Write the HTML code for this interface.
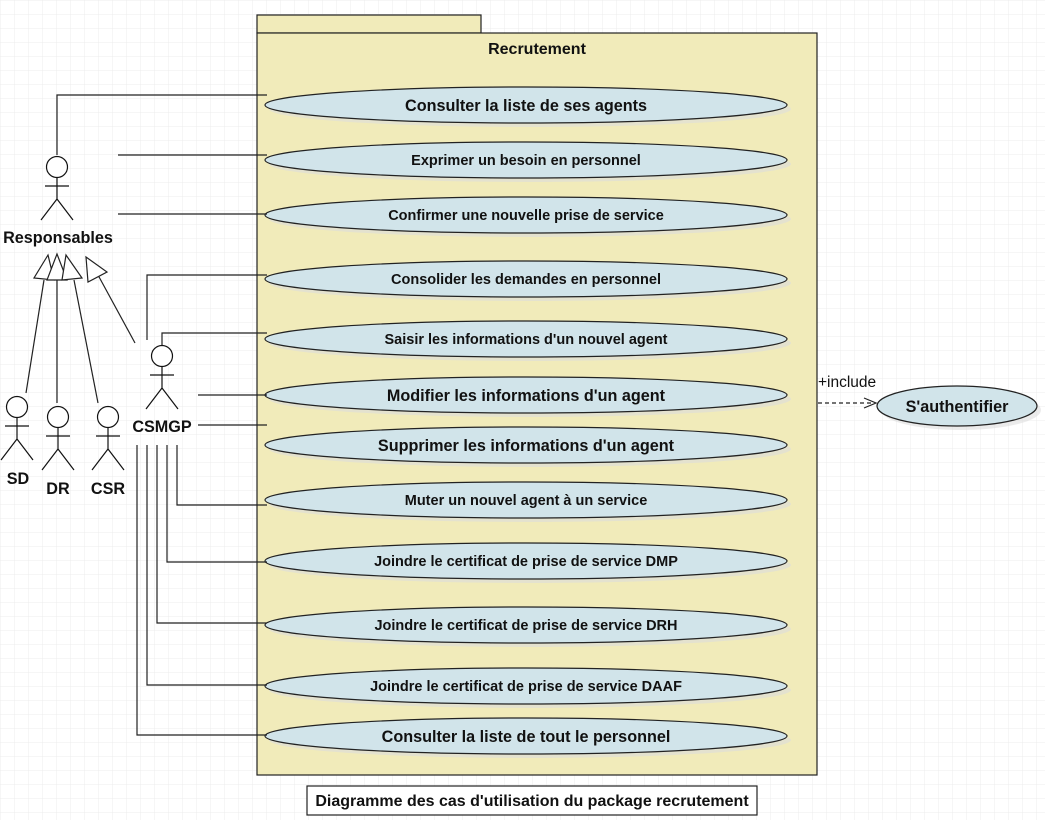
<!DOCTYPE html>
<html><head><meta charset="utf-8"><style>
html,body{margin:0;padding:0;background:#fff}
svg{display:block}
text{font-family:"Liberation Sans",Arial,sans-serif;font-weight:bold;fill:#111}
</style></head><body>
<svg width="1045" height="820" xmlns="http://www.w3.org/2000/svg">
<defs>
<pattern id="g" width="14" height="14" patternUnits="userSpaceOnUse">
<path d="M14 0H0V14" fill="none" stroke="#ececec" stroke-width="1"/>
</pattern>
</defs>
<rect width="1045" height="820" fill="url(#g)"/>
<rect x="257" y="15" width="224" height="18" fill="#f1ebba" stroke="#222" stroke-width="1.2"/>
<rect x="257" y="33" width="560" height="742" fill="#f1ebba" stroke="#222" stroke-width="1.2"/>
<text x="537" y="54" text-anchor="middle" font-size="16">Recrutement</text>

<g stroke="#222" stroke-width="1.2" fill="#d1e4ea">
<g fill="#ddd" stroke="none" opacity="0.6">
<ellipse cx="530" cy="109" rx="261" ry="18"/><ellipse cx="530" cy="164" rx="261" ry="18"/>
<ellipse cx="530" cy="219" rx="261" ry="18"/><ellipse cx="530" cy="283" rx="261" ry="18"/>
<ellipse cx="530" cy="343" rx="261" ry="18"/><ellipse cx="530" cy="399" rx="261" ry="18"/>
<ellipse cx="530" cy="449" rx="261" ry="18"/><ellipse cx="530" cy="504" rx="261" ry="18"/>
<ellipse cx="530" cy="565" rx="261" ry="18"/><ellipse cx="530" cy="629" rx="261" ry="18"/>
<ellipse cx="530" cy="690" rx="261" ry="18"/><ellipse cx="530" cy="740" rx="261" ry="18"/>
<ellipse cx="961" cy="410" rx="80" ry="20"/>
</g>
<ellipse cx="526" cy="105" rx="261" ry="18"/>
<ellipse cx="526" cy="160" rx="261" ry="18"/>
<ellipse cx="526" cy="215" rx="261" ry="18"/>
<ellipse cx="526" cy="279" rx="261" ry="18"/>
<ellipse cx="526" cy="339" rx="261" ry="18"/>
<ellipse cx="526" cy="395" rx="261" ry="18"/>
<ellipse cx="526" cy="445" rx="261" ry="18"/>
<ellipse cx="526" cy="500" rx="261" ry="18"/>
<ellipse cx="526" cy="561" rx="261" ry="18"/>
<ellipse cx="526" cy="625" rx="261" ry="18"/>
<ellipse cx="526" cy="686" rx="261" ry="18"/>
<ellipse cx="526" cy="736" rx="261" ry="18"/>
<ellipse cx="957" cy="406" rx="80" ry="20"/>
</g>
<g text-anchor="middle">
<text x="526" y="111" font-size="16.2">Consulter la liste de ses agents</text>
<text x="526" y="165" font-size="14.5">Exprimer un besoin en personnel</text>
<text x="526" y="220" font-size="14.5">Confirmer une nouvelle prise de service</text>
<text x="526" y="284" font-size="14.5">Consolider les demandes en personnel</text>
<text x="526" y="344" font-size="14.5">Saisir les informations d'un nouvel agent</text>
<text x="526" y="401" font-size="16.2">Modifier les informations d'un agent</text>
<text x="526" y="451" font-size="16.2">Supprimer les informations d'un agent</text>
<text x="526" y="505" font-size="14.5">Muter un nouvel agent à un service</text>
<text x="526" y="566" font-size="14.5">Joindre le certificat de prise de service DMP</text>
<text x="526" y="630" font-size="14.5">Joindre le certificat de prise de service DRH</text>
<text x="526" y="691" font-size="14.5">Joindre le certificat de prise de service DAAF</text>
<text x="526" y="742" font-size="16.2">Consulter la liste de tout le personnel</text>
<text x="957" y="412" font-size="16.2">S'authentifier</text>
</g>

<g stroke="#222" stroke-width="1.2" fill="none">
<path d="M57 155V95H267"/>
<path d="M118 155H267"/>
<path d="M118 214H267"/>
<path d="M147 340V275H267"/>
<path d="M162 345V333H267"/>
<path d="M198 395H267"/>
<path d="M198 425H267"/>
<path d="M177 445V505H267"/>
<path d="M167 445V562H267"/>
<path d="M157 445V623H267"/>
<path d="M147 445V685H267"/>
<path d="M137 445V735H267"/>
<path d="M818 403H874" stroke-dasharray="4,3"/>
<path d="M864 398L876 403L864 408"/>
<path d="M26 393L44 280"/>
<path d="M57 403V280"/>
<path d="M98 403L74 280"/>
<path d="M135 343L98 275"/>
</g>
<g stroke="#222" stroke-width="1.2" fill="#fff">
<path d="M48 255L34 278L54 280Z"/>
<path d="M57 254L47 280L67 280Z"/>
<path d="M66 255L62 280L82 278Z"/>
<path d="M86 257L88 282L107 272Z"/>
</g>
<text x="818" y="387" font-size="15.5" style="font-weight:normal">+include</text>

<g stroke="#111" stroke-width="1.2" fill="#fff">
<g transform="translate(57,167)"><circle r="10.5"/><path d="M0 10.5V32M-12 19H12M0 32L-16 53M0 32L16 53" fill="none"/></g>
<g transform="translate(17,407)"><circle r="10.5"/><path d="M0 10.5V32M-12 19H12M0 32L-16 53M0 32L16 53" fill="none"/></g>
<g transform="translate(58,417)"><circle r="10.5"/><path d="M0 10.5V32M-12 19H12M0 32L-16 53M0 32L16 53" fill="none"/></g>
<g transform="translate(108,417)"><circle r="10.5"/><path d="M0 10.5V32M-12 19H12M0 32L-16 53M0 32L16 53" fill="none"/></g>
<g transform="translate(162,356)"><circle r="10.5"/><path d="M0 10.5V32M-12 19H12M0 32L-16 53M0 32L16 53" fill="none"/></g>
</g>
<g font-size="16.2" text-anchor="middle">
<text x="58" y="243">Responsables</text>
<text x="18" y="484">SD</text>
<text x="58" y="494">DR</text>
<text x="108" y="494">CSR</text>
<text x="162" y="432">CSMGP</text>
</g>

<rect x="307" y="786" width="450" height="29" fill="#fff" stroke="#222" stroke-width="1.2"/>
<text x="532" y="806" text-anchor="middle" font-size="16">Diagramme des cas d'utilisation du package recrutement</text>
</svg>
</body></html>
